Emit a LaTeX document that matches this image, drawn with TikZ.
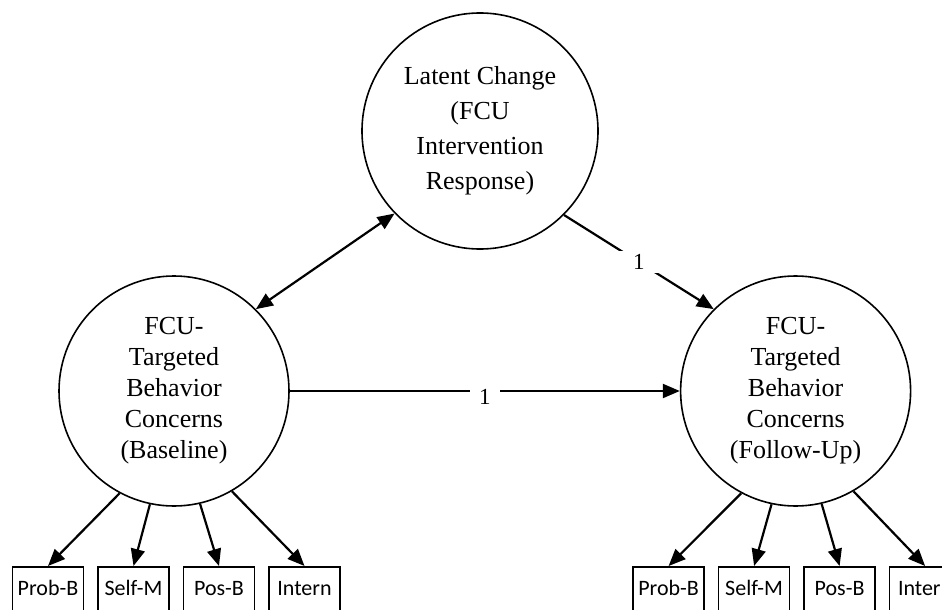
\documentclass[tikz,border=0pt]{standalone}
\usepackage{fontspec}
\setmainfont{Liberation Serif}
\newfontfamily\calibri{Carlito}
\usepackage{tikz}
\usetikzlibrary{positioning,arrows.meta}

\begin{document}
\begin{tikzpicture}[
  factor/.style={draw,circle,line width=1.6pt,minimum size=230pt,inner sep=0pt,align=center,font=\fontsize{26}{31}\selectfont},
  indicator/.style={draw,rectangle,line width=1.5pt,minimum width=71pt,inner xsep=0pt,inner ysep=13pt,text height=16pt,text depth=20pt,font=\calibri\fontsize{22}{24}\selectfont},
  weight/.style={fill=white,font=\fontsize{23}{26}\selectfont},
  >={Triangle[length=17pt,width=14pt]}, line width=2.2pt]
\clip (0pt,0pt) rectangle (942pt,-610pt);
% Latent change
\node[factor, minimum size=236pt, font=\fontsize{26}{35}\selectfont] (change) at (480pt,-131pt) {Latent Change\\(FCU\\Intervention\\Response)};
% Factors
\node[factor] (baseline) at (174pt,-391pt) {FCU-\\Targeted\\Behavior\\Concerns\\(Baseline)};
\node[factor, right=390pt of baseline] (followup) {FCU-\\Targeted\\Behavior\\Concerns\\(Follow-Up)};
% Indicators baseline
\node[indicator, anchor=north, xshift=-126pt, yshift=-175pt] (base-1) at (baseline.center) {Prob-B};
\node[indicator, right=13pt of base-1] (base-2) {Self-M};
\node[indicator, right=13pt of base-2] (base-3) {Pos-B};
\node[indicator, right=13pt of base-3] (base-4) {Intern};
% Indicators follow-up
\node[indicator, anchor=north, xshift=-127pt, yshift=-175pt] (follow-1) at (followup.center) {Prob-B};
\node[indicator, right=13pt of follow-1] (follow-2) {Self-M};
\node[indicator, right=13pt of follow-2] (follow-3) {Pos-B};
\node[indicator, right=13pt of follow-3] (follow-4) {Intern};
% Paths
\draw[<->] (change.224) -- (baseline.45);
\draw[->] (change.-45) -- node[weight, inner xsep=14pt, inner ysep=3pt] {1} (followup.135);
\draw[->] (baseline.east) -- node[weight, inner xsep=9pt, inner ysep=2pt, yshift=-6pt] {1} (followup.west);
% Loadings
\draw[->] (baseline.-118) -- (base-1.north);
\draw[->] (baseline.-102) -- (base-2.north);
\draw[->] (baseline.-77) -- (base-3.north);
\draw[->] (baseline.-60) -- (base-4.north);
\draw[->] (followup.-118) -- (follow-1.north);
\draw[->] (followup.-102) -- (follow-2.north);
\draw[->] (followup.-77) -- (follow-3.north);
\draw[->] (followup.-60) -- (follow-4.north);
\end{tikzpicture}
\end{document}
